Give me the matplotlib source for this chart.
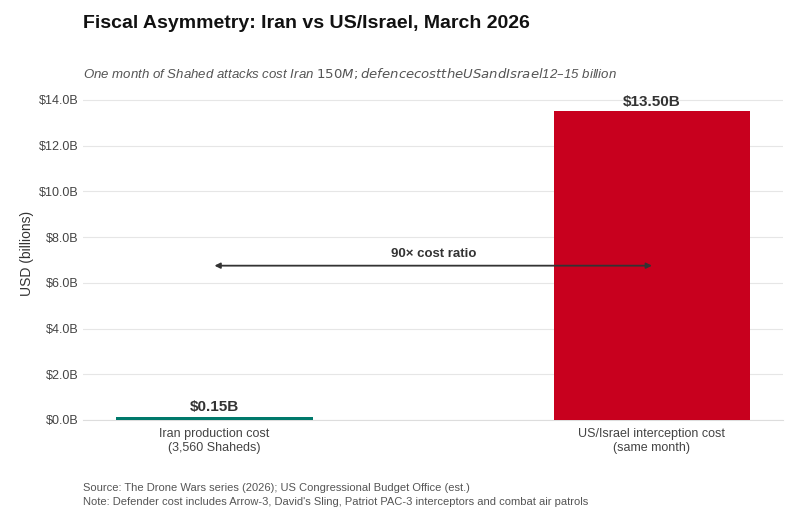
import matplotlib
matplotlib.use("Agg")
import matplotlib.pyplot as plt

categories = ["Iran production cost\n(3,560 Shaheds)", "US/Israel interception cost\n(same month)"]
values = [0.15, 13.50]
value_labels = ["$0.15B", "$13.50B"]
colors = ["#00796B", "#C8001E"]
yticks = [0, 2, 4, 6, 8, 10, 12, 14]
ratio_label = "90× cost ratio"
arrow_y = 6.75

plt.rcParams['font.family'] = ['Liberation Sans', 'DejaVu Sans']

fig = plt.figure(figsize=(8, 5.24), dpi=100)
ax = fig.add_axes([0.104, 0.1985, 0.875, 0.637])

x = list(range(len(categories)))
ax.bar(x, values, width=0.45, color=colors, zorder=3)
for xi, v, lab in zip(x, values, value_labels):
    ax.text(xi, v + 0.12, lab.replace("$", r"\$"), ha="center", va="bottom",
            fontsize=11, fontweight="bold", color="#333333", zorder=4)

ax.annotate("", xy=(1, arrow_y), xytext=(0, arrow_y),
            arrowprops=dict(arrowstyle="<|-|>", color="#333333", lw=1.3,
                            mutation_scale=8, shrinkA=0, shrinkB=0), zorder=5)
ax.text(0.5, arrow_y + 0.25, ratio_label, ha="center", va="bottom",
        fontsize=9.5, fontweight="bold", color="#333333", zorder=5)

ax.set_xlim(-0.3, 1.3)
ax.set_ylim(0, 14.6)
ax.set_yticks(yticks)
ax.set_yticklabels([f"\\${t:.1f}B" for t in yticks])
ax.set_xticks(x)
ax.set_xticklabels(categories)
ax.tick_params(axis="both", length=0, labelsize=9, colors="#444444")
ax.tick_params(axis="x", pad=6)
ax.yaxis.grid(True, color="#E6E6E6", lw=0.8, zorder=0)
for s in ["top", "right", "left"]:
    ax.spines[s].set_visible(False)
ax.spines["bottom"].set_color("#DDDDDD")
ax.set_ylabel("USD (billions)", fontsize=10, color="#333333", labelpad=3)

fig.text(0.104, 0.955, "Fiscal Asymmetry: Iran vs US/Israel, March 2026",
         fontsize=14, fontweight="bold", color="#111111", ha="left", va="center")
fig.text(0.104, 0.859,
         "One month of Shahed attacks cost Iran $150M; defence cost the US and Israel $12–15 billion",
         fontsize=9.5, style="italic", color="#555555", ha="left", va="center")
fig.text(0.104, 0.069, "Source: The Drone Wars series (2026); US Congressional Budget Office (est.)",
         fontsize=8, color="#555555", ha="left", va="center")
fig.text(0.104, 0.042, "Note: Defender cost includes Arrow-3, David's Sling, Patriot PAC-3 interceptors and combat air patrols",
         fontsize=8, color="#555555", ha="left", va="center")

fig.savefig("out.png", dpi=100)
